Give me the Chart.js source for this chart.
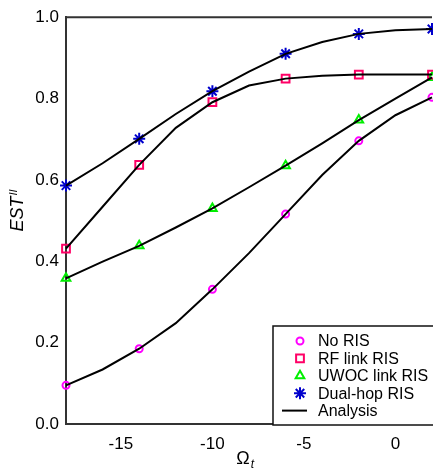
<!DOCTYPE html>
<html lang="en">
  <head>
    <meta charset="UTF-8" />
    <title>EST vs Omega_t</title>
    <script src="https://cdn.jsdelivr.net/npm/chart.js"></script>
    <style>
      html,
      body {
        margin: 0;
        padding: 0;
        background: #fff;
        overflow: hidden;
      }
      .wrap {
        position: relative;
        width: 440px;
        height: 470px;
      }
    </style>
  </head>
  <body>
    <div class="wrap"><canvas id="estChart"></canvas></div>

    <script>
      // Omega_t grid of the analytical curves and of the simulated markers
      const omegaAnalysis = [-18, -16, -14, -12, -10, -8, -6, -4, -2, 0, 2];
      const omegaSim = [-18, -14, -10, -6, -2, 2];

      // analytical EST values
      const noRis = [0.095, 0.134, 0.185, 0.248, 0.331, 0.42, 0.516, 0.612, 0.696, 0.759, 0.803];
      const rfRis = [0.431, 0.534, 0.637, 0.728, 0.791, 0.832, 0.849, 0.856, 0.859, 0.859, 0.859];
      const uwocRis = [0.358, 0.399, 0.438, 0.483, 0.53, 0.582, 0.635, 0.69, 0.747, 0.8, 0.852];
      const dualRis = [0.586, 0.641, 0.701, 0.762, 0.818, 0.866, 0.91, 0.939, 0.959, 0.968, 0.971];

      const yTicks = [0, 0.2, 0.4, 0.6, 0.8, 1.0];
      const xTicks = [-15, -10, -5, 0];

      const FONT = "'Liberation Sans', Arial, sans-serif";

      const toPoints = (xs, ys) => xs.map((x, i) => ({ x: x, y: ys[i] }));
      // simulated markers sit on the analysis grid
      const simPoints = (ys) =>
        omegaSim.map((x) => ({ x: x, y: ys[omegaAnalysis.indexOf(x)] }));

      const analysisLine = (ys) => ({
        label: "Analysis",
        data: toPoints(omegaAnalysis, ys),
        borderColor: "#000",
        borderWidth: 2,
        pointRadius: 0,
        tension: 0,
        fill: false,
        clip: false,
      });

      const markerSet = (label, ys, color, style, radius) => ({
        label: label,
        data: simPoints(ys),
        showLine: false,
        pointStyle: style,
        pointRadius: radius,
        pointBorderColor: color,
        pointBackgroundColor: "rgba(0,0,0,0)",
        pointBorderWidth: 2,
        borderColor: color,
        clip: false,
      });

      const datasets = [
        analysisLine(noRis),
        analysisLine(rfRis),
        analysisLine(uwocRis),
        analysisLine(dualRis),
        markerSet("No RIS", noRis, "#ff00ff", "circle", 3.5),
        markerSet("RF link RIS", rfRis, "#ff0066", "rect", 5.5),
        markerSet("UWOC link RIS", uwocRis, "#00ee00", "triangle", 5),
        markerSet("Dual-hop RIS", dualRis, "#0000cc", "star", 6),
      ];

      // axis titles, top frame line and boxed legend
      const decorations = {
        id: "decorations",
        afterDraw(chart) {
          const ctx = chart.ctx;
          const area = chart.chartArea;
          ctx.save();

          // top frame
          ctx.strokeStyle = "#333";
          ctx.lineWidth = 2;
          ctx.beginPath();
          ctx.moveTo(area.left, area.top);
          ctx.lineTo(area.right, area.top);
          ctx.stroke();

          // y title: EST^II
          ctx.fillStyle = "#000";
          ctx.translate(23, 211);
          ctx.rotate(-Math.PI / 2);
          ctx.textBaseline = "alphabetic";
          ctx.textAlign = "left";
          ctx.font = "italic 18px " + FONT;
          const estW = ctx.measureText("EST").width;
          ctx.font = "italic 11px " + FONT;
          const supW = ctx.measureText("II").width;
          const start = -(estW + supW) / 2;
          ctx.font = "italic 18px " + FONT;
          ctx.fillText("EST", start, 0);
          ctx.font = "italic 11px " + FONT;
          ctx.fillText("II", start + estW + 1, -6);
          ctx.setTransform(1, 0, 0, 1, 0, 0);

          // x title: Omega_t
          ctx.font = "18px " + FONT;
          const omW = ctx.measureText("\u03A9").width;
          const ox = (area.left + area.right) / 2 - 6;
          ctx.fillText("\u03A9", ox - omW / 2, 464);
          ctx.font = "italic 12px " + FONT;
          ctx.fillText("t", ox + omW / 2 + 1, 468);

          // legend box
          const bx = 273, by = 326, bw = 170, bh = 99;
          ctx.fillStyle = "#fff";
          ctx.fillRect(bx, by, bw, bh);
          ctx.strokeStyle = "#111";
          ctx.lineWidth = 1.5;
          ctx.strokeRect(bx, by, bw, bh);

          const rows = chart.data.datasets.slice(4).concat([chart.data.datasets[0]]);
          ctx.font = "16px " + FONT;
          ctx.textBaseline = "middle";
          rows.forEach((ds, i) => {
            const cy = 341 + i * 17.4;
            if (ds.showLine === false) {
              ctx.strokeStyle = ds.pointBorderColor;
              ctx.fillStyle = "rgba(0,0,0,0)";
              ctx.lineWidth = 2;
              Chart.helpers.drawPoint(
                ctx,
                { pointStyle: ds.pointStyle, radius: ds.pointRadius, rotation: 0, borderWidth: 2 },
                300,
                cy
              );
            } else {
              ctx.strokeStyle = "#000";
              ctx.lineWidth = 2;
              ctx.beginPath();
              ctx.moveTo(282, cy);
              ctx.lineTo(307, cy);
              ctx.stroke();
            }
            ctx.fillStyle = "#000";
            ctx.fillText(ds.label, 318, cy + 1);
          });

          ctx.restore();
        },
      };

      new Chart(document.getElementById("estChart"), {
        type: "line",
        data: { datasets: datasets },
        options: {
          responsive: true,
          maintainAspectRatio: false,
          animation: false,
          layout: { padding: { left: 0, top: 13, right: 6, bottom: 0 } },
          plugins: {
            legend: { display: false },
            tooltip: { enabled: false },
          },
          scales: {
            x: {
              type: "linear",
              min: -18,
              max: 2,
              grid: { display: false, drawTicks: false },
              border: { display: true, color: "#333", width: 2 },
              afterBuildTicks: (scale) => {
                scale.ticks = xTicks.map((v) => ({ value: v }));
              },
              afterFit: (scale) => {
                scale.height = 46;
              },
              ticks: {
                color: "#000",
                padding: 10,
                maxRotation: 0,
                font: { family: FONT, size: 17 },
                callback: (v) => String(v),
              },
            },
            y: {
              min: 0,
              max: 1,
              grid: { display: false, drawTicks: false },
              border: { display: true, color: "#333", width: 2 },
              afterBuildTicks: (scale) => {
                scale.ticks = yTicks.map((v) => ({ value: v }));
              },
              afterFit: (scale) => {
                scale.width = 66;
              },
              ticks: {
                color: "#000",
                padding: 7,
                font: { family: FONT, size: 17 },
                callback: (v) => v.toFixed(1),
              },
            },
          },
        },
        plugins: [decorations],
      });
    </script>
  </body>
</html>
